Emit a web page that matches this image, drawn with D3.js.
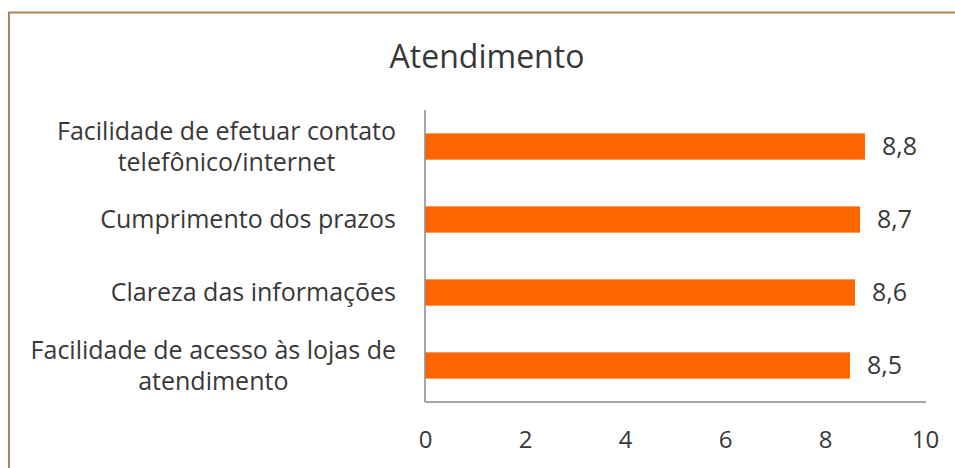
<!DOCTYPE html>
<html>
<head>
<meta charset="utf-8">
<script src="https://cdn.jsdelivr.net/npm/d3@7"></script>
<style>
  body { margin: 0; background: #fff; }
  text { font-family: "Open Sans", sans-serif; fill: #383838; }
</style>
</head>
<body>
<div id="chart"></div>
<script>
  // datos del grafico
  var titulo = "Atendimento";
  var categorias = [
    ["Facilidade de efetuar contato", "telefônico/internet"],
    ["Cumprimento dos prazos"],
    ["Clareza das informações"],
    ["Facilidade de acesso às lojas de", "atendimento"]
  ];
  var valores = [8.8, 8.7, 8.6, 8.5];
  var ticks = [0, 2, 4, 6, 8, 10];

  var W = 955, H = 468;
  var margin = {top: 110, right: 30, bottom: 66, left: 425},
      width = 925 - margin.left,
      height = H - margin.top - margin.bottom;

  var svg = d3.select("#chart")
    .append("svg")
      .attr("width", W)
      .attr("height", H);

  // borde del cuadro
  svg.append("path")
    .attr("d", "M9," + H + "V12.5H" + W)
    .style("fill", "none")
    .style("stroke", "#b08656")
    .style("stroke-width", 2);

  svg.append("text")
    .attr("x", 487)
    .attr("y", 68)
    .style("text-anchor", "middle")
    .style("font-size", "32px")
    .text(titulo);

  var g = svg.append("g")
    .attr("transform", "translate(" + margin.left + "," + margin.top + ")");

  var x = d3.scaleLinear()
    .domain([0, 10])
    .range([0, width]);

  var y = d3.scaleBand()
    .domain(d3.range(categorias.length))
    .range([0, height])
    .paddingInner(0.64)
    .paddingOuter(0.32);

  // barras
  g.selectAll("rect.bar")
    .data(valores)
    .enter().append("rect")
      .attr("class", "bar")
      .attr("x", 0)
      .attr("y", function(d, i) { return y(i); })
      .attr("width", function(d) { return x(d); })
      .attr("height", y.bandwidth())
      .style("fill", "#ff6600");

  // etiquetas de valor
  g.selectAll("text.val")
    .data(valores)
    .enter().append("text")
      .attr("class", "val")
      .attr("x", function(d) { return x(d) + 17; })
      .attr("y", function(d, i) { return y(i) + y.bandwidth() / 2; })
      .attr("dy", "0.35em")
      .style("font-size", "25px")
      .text(function(d) { return d3.format(".1f")(d).replace(".", ","); });

  // eje x
  var ejeX = g.append("g")
    .attr("transform", "translate(0," + height + ")")
    .call(d3.axisBottom(x).tickValues(ticks).tickSize(0).tickSizeOuter(0).tickPadding(29));
  ejeX.select(".domain").style("stroke", "#8a8a8a").style("stroke-width", 1.5)
    .attr("d", "M0,0H" + (width + 1));
  ejeX.selectAll("text").style("font-size", "24px").style("font-family", "Open Sans").style("fill", "#383838");

  // eje y
  g.append("line")
    .attr("x1", 0).attr("x2", 0)
    .attr("y1", 0).attr("y2", height)
    .style("stroke", "#8a8a8a")
    .style("stroke-width", 1.5);

  // etiquetas de categoria, centradas entre si y alineadas a la derecha
  var lineH = 31, derecha = 396;
  categorias.forEach(function(lineas, i) {
    var t = svg.append("text")
      .style("font-size", "25px")
      .style("text-anchor", "middle");
    var spans = lineas.map(function(l) { return t.append("tspan").text(l); });
    var maxW = d3.max(spans, function(s) { return s.node().getComputedTextLength(); });
    var cy = margin.top + y(i) + y.bandwidth() / 2;
    spans.forEach(function(s, j) {
      s.attr("x", derecha - maxW / 2)
       .attr("y", cy + (j - (lineas.length - 1) / 2) * lineH)
       .attr("dy", "0.35em");
    });
  });
</script>
</body>
</html>
